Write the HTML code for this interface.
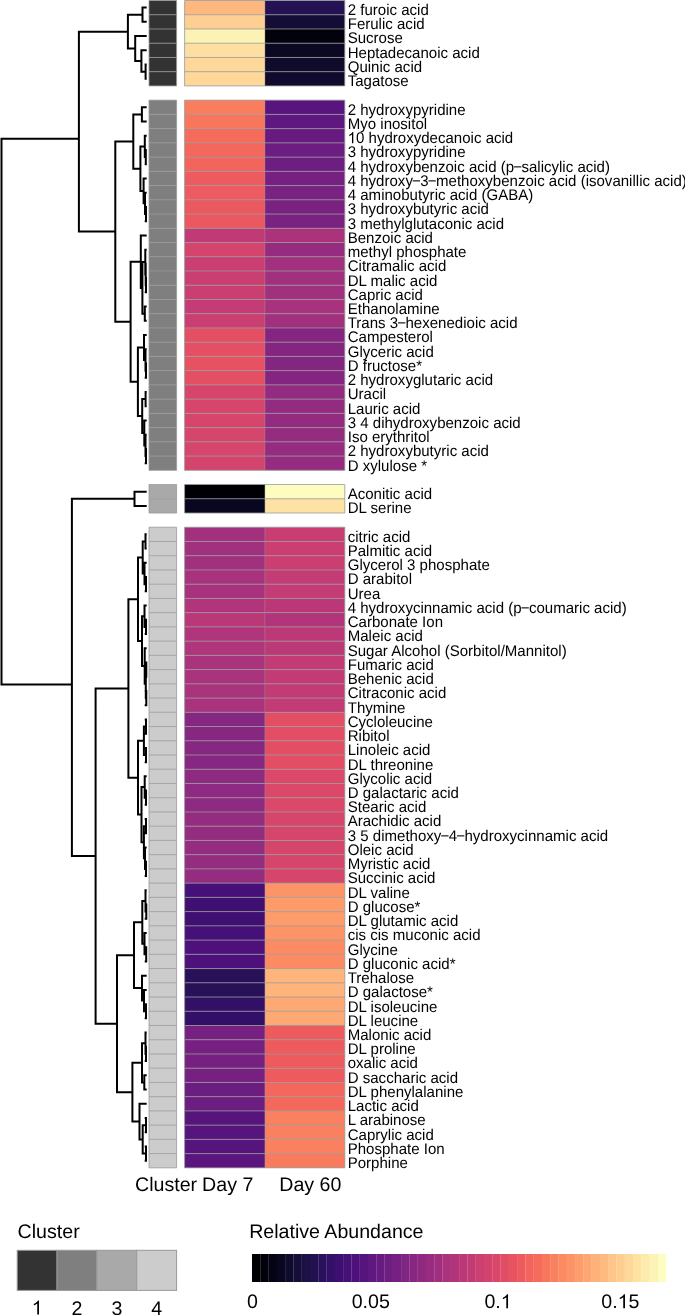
<!DOCTYPE html><html><head><meta charset="utf-8"><style>html,body{margin:0;padding:0;background:#fff;overflow:hidden;}svg{display:block;will-change:transform;}text{text-rendering:geometricPrecision;font-family:"Liberation Sans",sans-serif;fill:#000;}</style></head><body>
<svg width="685" height="1315" viewBox="0 0 685 1315">
<path d="M142.50 7.62L142.50 21.85 M142.50 7.62L145.70 7.62 M142.50 21.85L145.70 21.85 M145.60 64.56L145.60 78.80 M145.60 64.56L145.70 64.56 M145.60 78.80L145.70 78.80 M141.40 50.33L141.40 71.68 M141.40 50.33L145.70 50.33 M141.40 71.68L145.60 71.68 M135.20 36.09L135.20 61.00 M135.20 36.09L145.70 36.09 M135.20 61.00L141.40 61.00 M127.90 14.74L127.90 48.55 M127.90 14.74L142.50 14.74 M127.90 48.55L135.20 48.55 M141.90 107.27L141.90 121.51 M141.90 107.27L145.70 107.27 M141.90 121.51L145.70 121.51 M145.80 149.98L145.80 164.21 M145.80 149.98L145.70 149.98 M145.80 164.21L145.70 164.21 M144.80 135.74L144.80 157.10 M144.80 135.74L145.70 135.74 M144.80 157.10L145.80 157.10 M146.00 206.92L146.00 221.16 M146.00 206.92L145.70 206.92 M146.00 221.16L145.70 221.16 M145.00 192.69L145.00 214.04 M145.00 192.69L145.70 192.69 M145.00 214.04L146.00 214.04 M143.60 178.45L143.60 203.36 M143.60 178.45L145.70 178.45 M143.60 203.36L145.00 203.36 M140.40 146.42L140.40 190.91 M140.40 146.42L144.80 146.42 M140.40 190.91L143.60 190.91 M133.30 114.39L133.30 168.66 M133.30 114.39L141.90 114.39 M133.30 168.66L140.40 168.66 M146.00 278.10L146.00 292.34 M146.00 278.10L145.70 278.10 M146.00 292.34L145.70 292.34 M145.70 263.87L145.70 285.22 M145.70 263.87L145.70 263.87 M145.70 285.22L146.00 285.22 M145.30 249.63L145.30 274.54 M145.30 249.63L145.70 249.63 M145.30 274.54L145.70 274.54 M144.80 306.57L144.80 320.81 M144.80 306.57L145.70 306.57 M144.80 320.81L145.70 320.81 M142.40 262.09L142.40 313.69 M142.40 262.09L145.30 262.09 M142.40 313.69L144.80 313.69 M140.80 235.39L140.80 287.89 M140.80 235.39L145.70 235.39 M140.80 287.89L142.40 287.89 M146.00 363.52L146.00 377.75 M146.00 363.52L145.70 363.52 M146.00 377.75L145.70 377.75 M145.50 349.28L145.50 370.64 M145.50 349.28L145.70 349.28 M145.50 370.64L146.00 370.64 M144.00 335.05L144.00 359.96 M144.00 335.05L145.70 335.05 M144.00 359.96L145.50 359.96 M145.60 391.99L145.60 406.23 M145.60 391.99L145.70 391.99 M145.60 406.23L145.70 406.23 M146.00 448.93L146.00 463.17 M146.00 448.93L145.70 448.93 M146.00 463.17L145.70 463.17 M145.50 434.70L145.50 456.05 M145.50 434.70L145.70 434.70 M145.50 456.05L146.00 456.05 M144.30 420.46L144.30 445.38 M144.30 420.46L145.70 420.46 M144.30 445.38L145.50 445.38 M142.20 399.11L142.20 432.92 M142.20 399.11L145.60 399.11 M142.20 432.92L144.30 432.92 M137.90 347.50L137.90 416.01 M137.90 347.50L144.00 347.50 M137.90 416.01L142.20 416.01 M130.60 261.64L130.60 381.76 M130.60 261.64L140.80 261.64 M130.60 381.76L137.90 381.76 M115.30 141.53L115.30 321.70 M115.30 141.53L133.30 141.53 M115.30 321.70L130.60 321.70 M134.50 491.64L134.50 505.88 M134.50 491.64L145.70 491.64 M134.50 505.88L145.70 505.88 M145.50 534.35L145.50 548.59 M145.50 534.35L145.70 534.35 M145.50 548.59L145.70 548.59 M146.00 577.06L146.00 591.29 M146.00 577.06L145.70 577.06 M146.00 591.29L145.70 591.29 M144.50 562.82L144.50 584.18 M144.50 562.82L145.70 562.82 M144.50 584.18L146.00 584.18 M142.70 541.47L142.70 573.50 M142.70 541.47L145.50 541.47 M142.70 573.50L144.50 573.50 M146.00 619.77L146.00 634.00 M146.00 619.77L145.70 619.77 M146.00 634.00L145.70 634.00 M144.50 605.53L144.50 626.88 M144.50 605.53L145.70 605.53 M144.50 626.88L146.00 626.88 M146.30 662.47L146.30 676.71 M146.30 662.47L145.70 662.47 M146.30 676.71L145.70 676.71 M146.30 690.95L146.30 705.18 M146.30 690.95L145.70 690.95 M146.30 705.18L145.70 705.18 M145.80 669.59L145.80 698.06 M145.80 669.59L146.30 669.59 M145.80 698.06L146.30 698.06 M144.70 648.24L144.70 683.83 M144.70 648.24L145.70 648.24 M144.70 683.83L145.80 683.83 M142.00 616.21L142.00 666.03 M142.00 616.21L144.50 616.21 M142.00 666.03L144.70 666.03 M138.00 557.48L138.00 641.12 M138.00 557.48L142.70 557.48 M138.00 641.12L142.00 641.12 M146.00 719.42L146.00 733.65 M146.00 719.42L145.70 719.42 M146.00 733.65L145.70 733.65 M146.00 747.89L146.00 762.13 M146.00 747.89L145.70 747.89 M146.00 762.13L145.70 762.13 M143.90 726.54L143.90 755.01 M143.90 726.54L146.00 726.54 M143.90 755.01L146.00 755.01 M146.00 790.60L146.00 804.83 M146.00 790.60L145.70 790.60 M146.00 804.83L145.70 804.83 M144.70 776.36L144.70 797.72 M144.70 776.36L145.70 776.36 M144.70 797.72L146.00 797.72 M146.00 819.07L146.00 833.31 M146.00 819.07L145.70 819.07 M146.00 833.31L145.70 833.31 M146.00 861.78L146.00 876.01 M146.00 861.78L145.70 861.78 M146.00 876.01L145.70 876.01 M145.00 847.54L145.00 868.90 M145.00 847.54L145.70 847.54 M145.00 868.90L146.00 868.90 M143.90 826.19L143.90 858.22 M143.90 826.19L146.00 826.19 M143.90 858.22L145.00 858.22 M141.50 787.04L141.50 842.20 M141.50 787.04L144.70 787.04 M141.50 842.20L143.90 842.20 M138.00 740.77L138.00 814.62 M138.00 740.77L143.90 740.77 M138.00 814.62L141.50 814.62 M128.40 599.30L128.40 777.70 M128.40 599.30L138.00 599.30 M128.40 777.70L138.00 777.70 M146.30 904.49L146.30 918.72 M146.30 904.49L145.70 904.49 M146.30 918.72L145.70 918.72 M145.50 890.25L145.50 911.60 M145.50 890.25L145.70 890.25 M145.50 911.60L146.30 911.60 M146.20 947.19L146.20 961.43 M146.20 947.19L145.70 947.19 M146.20 961.43L145.70 961.43 M144.50 932.96L144.50 954.31 M144.50 932.96L145.70 932.96 M144.50 954.31L146.20 954.31 M142.30 900.93L142.30 943.64 M142.30 900.93L145.50 900.93 M142.30 943.64L144.50 943.64 M146.00 1004.14L146.00 1018.37 M146.00 1004.14L145.70 1004.14 M146.00 1018.37L145.70 1018.37 M144.00 989.90L144.00 1011.26 M144.00 989.90L145.70 989.90 M144.00 1011.26L146.00 1011.26 M142.00 975.67L142.00 1000.58 M142.00 975.67L145.70 975.67 M142.00 1000.58L144.00 1000.58 M134.00 922.28L134.00 988.12 M134.00 922.28L142.30 922.28 M134.00 988.12L142.00 988.12 M146.00 1046.85L146.00 1061.08 M146.00 1046.85L145.70 1046.85 M146.00 1061.08L145.70 1061.08 M145.50 1032.61L145.50 1053.96 M145.50 1032.61L145.70 1032.61 M145.50 1053.96L146.00 1053.96 M144.30 1075.32L144.30 1089.55 M144.30 1075.32L145.70 1075.32 M144.30 1089.55L145.70 1089.55 M142.00 1043.29L142.00 1082.44 M142.00 1043.29L145.50 1043.29 M142.00 1082.44L144.30 1082.44 M146.00 1118.03L146.00 1132.26 M146.00 1118.03L145.70 1118.03 M146.00 1132.26L145.70 1132.26 M146.00 1146.50L146.00 1160.73 M146.00 1146.50L145.70 1146.50 M146.00 1160.73L145.70 1160.73 M142.70 1125.14L142.70 1153.62 M142.70 1125.14L146.00 1125.14 M142.70 1153.62L146.00 1153.62 M139.50 1103.79L139.50 1139.38 M139.50 1103.79L145.70 1103.79 M139.50 1139.38L142.70 1139.38 M132.40 1062.86L132.40 1121.59 M132.40 1062.86L142.00 1062.86 M132.40 1121.59L139.50 1121.59 M117.00 955.20L117.00 1092.22 M117.00 955.20L134.00 955.20 M117.00 1092.22L132.40 1092.22 M95.60 688.50L95.60 1023.71 M95.60 688.50L128.40 688.50 M95.60 1023.71L117.00 1023.71 M78.90 31.64L78.90 231.61 M78.90 31.64L127.90 31.64 M78.90 231.61L115.30 231.61 M71.90 498.76L71.90 856.11 M71.90 498.76L134.50 498.76 M71.90 856.11L95.60 856.11 M1.50 138.74L1.50 684.55 M1.50 138.74L78.90 138.74 M1.50 684.55L71.90 684.55" stroke="#000" stroke-width="2.0" stroke-linecap="square" fill="none"/>
<rect x="149.0" y="0.50" width="27.60" height="14.29" fill="#333333"/>
<rect x="184.6" y="0.50" width="80.35" height="14.29" fill="#feb77e"/>
<rect x="264.95" y="0.50" width="79.85" height="14.29" fill="#251255"/>
<rect x="149.0" y="14.74" width="27.60" height="14.29" fill="#333333"/>
<rect x="184.6" y="14.74" width="80.35" height="14.29" fill="#fecf92"/>
<rect x="264.95" y="14.74" width="79.85" height="14.29" fill="#140e36"/>
<rect x="149.0" y="28.97" width="27.60" height="14.29" fill="#333333"/>
<rect x="184.6" y="28.97" width="80.35" height="14.29" fill="#fcf2b4"/>
<rect x="264.95" y="28.97" width="79.85" height="14.29" fill="#02020d"/>
<rect x="149.0" y="43.21" width="27.60" height="14.29" fill="#333333"/>
<rect x="184.6" y="43.21" width="80.35" height="14.29" fill="#fde0a1"/>
<rect x="264.95" y="43.21" width="79.85" height="14.29" fill="#0a0822"/>
<rect x="149.0" y="57.44" width="27.60" height="14.29" fill="#333333"/>
<rect x="184.6" y="57.44" width="80.35" height="14.29" fill="#fed89a"/>
<rect x="264.95" y="57.44" width="79.85" height="14.29" fill="#0e0b2b"/>
<rect x="149.0" y="71.68" width="27.60" height="14.29" fill="#333333"/>
<rect x="184.6" y="71.68" width="80.35" height="14.29" fill="#fed799"/>
<rect x="264.95" y="71.68" width="79.85" height="14.29" fill="#100b2d"/>
<rect x="149.0" y="100.15" width="27.60" height="14.29" fill="#7f7f7f"/>
<rect x="184.6" y="100.15" width="80.35" height="14.29" fill="#fa7d5e"/>
<rect x="264.95" y="100.15" width="79.85" height="14.29" fill="#59157e"/>
<rect x="149.0" y="114.39" width="27.60" height="14.29" fill="#7f7f7f"/>
<rect x="184.6" y="114.39" width="80.35" height="14.29" fill="#f8765c"/>
<rect x="264.95" y="114.39" width="79.85" height="14.29" fill="#5f187f"/>
<rect x="149.0" y="128.62" width="27.60" height="14.29" fill="#7f7f7f"/>
<rect x="184.6" y="128.62" width="80.35" height="14.29" fill="#f66c5c"/>
<rect x="264.95" y="128.62" width="79.85" height="14.29" fill="#671b80"/>
<rect x="149.0" y="142.86" width="27.60" height="14.29" fill="#7f7f7f"/>
<rect x="184.6" y="142.86" width="80.35" height="14.29" fill="#f4675c"/>
<rect x="264.95" y="142.86" width="79.85" height="14.29" fill="#6b1d81"/>
<rect x="149.0" y="157.10" width="27.60" height="14.29" fill="#7f7f7f"/>
<rect x="184.6" y="157.10" width="80.35" height="14.29" fill="#f2645c"/>
<rect x="264.95" y="157.10" width="79.85" height="14.29" fill="#6e1e81"/>
<rect x="149.0" y="171.33" width="27.60" height="14.29" fill="#7f7f7f"/>
<rect x="184.6" y="171.33" width="80.35" height="14.29" fill="#ee5b5e"/>
<rect x="264.95" y="171.33" width="79.85" height="14.29" fill="#762181"/>
<rect x="149.0" y="185.57" width="27.60" height="14.29" fill="#7f7f7f"/>
<rect x="184.6" y="185.57" width="80.35" height="14.29" fill="#ed5a5f"/>
<rect x="264.95" y="185.57" width="79.85" height="14.29" fill="#782281"/>
<rect x="149.0" y="199.80" width="27.60" height="14.29" fill="#7f7f7f"/>
<rect x="184.6" y="199.80" width="80.35" height="14.29" fill="#ec5860"/>
<rect x="264.95" y="199.80" width="79.85" height="14.29" fill="#792282"/>
<rect x="149.0" y="214.04" width="27.60" height="14.29" fill="#7f7f7f"/>
<rect x="184.6" y="214.04" width="80.35" height="14.29" fill="#ec5860"/>
<rect x="264.95" y="214.04" width="79.85" height="14.29" fill="#792282"/>
<rect x="149.0" y="228.28" width="27.60" height="14.29" fill="#7f7f7f"/>
<rect x="184.6" y="228.28" width="80.35" height="14.29" fill="#c03a76"/>
<rect x="264.95" y="228.28" width="79.85" height="14.29" fill="#ab337c"/>
<rect x="149.0" y="242.51" width="27.60" height="14.29" fill="#7f7f7f"/>
<rect x="184.6" y="242.51" width="80.35" height="14.29" fill="#d5446d"/>
<rect x="264.95" y="242.51" width="79.85" height="14.29" fill="#962c80"/>
<rect x="149.0" y="256.75" width="27.60" height="14.29" fill="#7f7f7f"/>
<rect x="184.6" y="256.75" width="80.35" height="14.29" fill="#ca3e72"/>
<rect x="264.95" y="256.75" width="79.85" height="14.29" fill="#a1307e"/>
<rect x="149.0" y="270.98" width="27.60" height="14.29" fill="#7f7f7f"/>
<rect x="184.6" y="270.98" width="80.35" height="14.29" fill="#ca3e72"/>
<rect x="264.95" y="270.98" width="79.85" height="14.29" fill="#a1307e"/>
<rect x="149.0" y="285.22" width="27.60" height="14.29" fill="#7f7f7f"/>
<rect x="184.6" y="285.22" width="80.35" height="14.29" fill="#ca3e72"/>
<rect x="264.95" y="285.22" width="79.85" height="14.29" fill="#a1307e"/>
<rect x="149.0" y="299.46" width="27.60" height="14.29" fill="#7f7f7f"/>
<rect x="184.6" y="299.46" width="80.35" height="14.29" fill="#c43c75"/>
<rect x="264.95" y="299.46" width="79.85" height="14.29" fill="#a8327d"/>
<rect x="149.0" y="313.69" width="27.60" height="14.29" fill="#7f7f7f"/>
<rect x="184.6" y="313.69" width="80.35" height="14.29" fill="#ca3e72"/>
<rect x="264.95" y="313.69" width="79.85" height="14.29" fill="#a1307e"/>
<rect x="149.0" y="327.93" width="27.60" height="14.29" fill="#7f7f7f"/>
<rect x="184.6" y="327.93" width="80.35" height="14.29" fill="#e44f64"/>
<rect x="264.95" y="327.93" width="79.85" height="14.29" fill="#842681"/>
<rect x="149.0" y="342.16" width="27.60" height="14.29" fill="#7f7f7f"/>
<rect x="184.6" y="342.16" width="80.35" height="14.29" fill="#e44f64"/>
<rect x="264.95" y="342.16" width="79.85" height="14.29" fill="#842681"/>
<rect x="149.0" y="356.40" width="27.60" height="14.29" fill="#7f7f7f"/>
<rect x="184.6" y="356.40" width="80.35" height="14.29" fill="#e75263"/>
<rect x="264.95" y="356.40" width="79.85" height="14.29" fill="#832681"/>
<rect x="149.0" y="370.64" width="27.60" height="14.29" fill="#7f7f7f"/>
<rect x="184.6" y="370.64" width="80.35" height="14.29" fill="#e44f64"/>
<rect x="264.95" y="370.64" width="79.85" height="14.29" fill="#842681"/>
<rect x="149.0" y="384.87" width="27.60" height="14.29" fill="#7f7f7f"/>
<rect x="184.6" y="384.87" width="80.35" height="14.29" fill="#d8456c"/>
<rect x="264.95" y="384.87" width="79.85" height="14.29" fill="#932b80"/>
<rect x="149.0" y="399.11" width="27.60" height="14.29" fill="#7f7f7f"/>
<rect x="184.6" y="399.11" width="80.35" height="14.29" fill="#d8456c"/>
<rect x="264.95" y="399.11" width="79.85" height="14.29" fill="#932b80"/>
<rect x="149.0" y="413.34" width="27.60" height="14.29" fill="#7f7f7f"/>
<rect x="184.6" y="413.34" width="80.35" height="14.29" fill="#d8456c"/>
<rect x="264.95" y="413.34" width="79.85" height="14.29" fill="#932b80"/>
<rect x="149.0" y="427.58" width="27.60" height="14.29" fill="#7f7f7f"/>
<rect x="184.6" y="427.58" width="80.35" height="14.29" fill="#d6456c"/>
<rect x="264.95" y="427.58" width="79.85" height="14.29" fill="#942c80"/>
<rect x="149.0" y="441.82" width="27.60" height="14.29" fill="#7f7f7f"/>
<rect x="184.6" y="441.82" width="80.35" height="14.29" fill="#d6456c"/>
<rect x="264.95" y="441.82" width="79.85" height="14.29" fill="#942c80"/>
<rect x="149.0" y="456.05" width="27.60" height="14.29" fill="#7f7f7f"/>
<rect x="184.6" y="456.05" width="80.35" height="14.29" fill="#d5446d"/>
<rect x="264.95" y="456.05" width="79.85" height="14.29" fill="#962c80"/>
<rect x="149.0" y="484.52" width="27.60" height="14.29" fill="#a9a9a9"/>
<rect x="184.6" y="484.52" width="80.35" height="14.29" fill="#000004"/>
<rect x="264.95" y="484.52" width="79.85" height="14.29" fill="#fcfdbf"/>
<rect x="149.0" y="498.76" width="27.60" height="14.29" fill="#a9a9a9"/>
<rect x="184.6" y="498.76" width="80.35" height="14.29" fill="#090720"/>
<rect x="264.95" y="498.76" width="79.85" height="14.29" fill="#fde2a3"/>
<rect x="149.0" y="527.23" width="27.60" height="14.29" fill="#cccccc"/>
<rect x="184.6" y="527.23" width="80.35" height="14.29" fill="#a3307e"/>
<rect x="264.95" y="527.23" width="79.85" height="14.29" fill="#c83e73"/>
<rect x="149.0" y="541.47" width="27.60" height="14.29" fill="#cccccc"/>
<rect x="184.6" y="541.47" width="80.35" height="14.29" fill="#a1307e"/>
<rect x="264.95" y="541.47" width="79.85" height="14.29" fill="#ca3e72"/>
<rect x="149.0" y="555.70" width="27.60" height="14.29" fill="#cccccc"/>
<rect x="184.6" y="555.70" width="80.35" height="14.29" fill="#a1307e"/>
<rect x="264.95" y="555.70" width="79.85" height="14.29" fill="#ca3e72"/>
<rect x="149.0" y="569.94" width="27.60" height="14.29" fill="#cccccc"/>
<rect x="184.6" y="569.94" width="80.35" height="14.29" fill="#a8327d"/>
<rect x="264.95" y="569.94" width="79.85" height="14.29" fill="#c43c75"/>
<rect x="149.0" y="584.18" width="27.60" height="14.29" fill="#cccccc"/>
<rect x="184.6" y="584.18" width="80.35" height="14.29" fill="#a8327d"/>
<rect x="264.95" y="584.18" width="79.85" height="14.29" fill="#c43c75"/>
<rect x="149.0" y="598.41" width="27.60" height="14.29" fill="#cccccc"/>
<rect x="184.6" y="598.41" width="80.35" height="14.29" fill="#b2357b"/>
<rect x="264.95" y="598.41" width="79.85" height="14.29" fill="#ba3878"/>
<rect x="149.0" y="612.65" width="27.60" height="14.29" fill="#cccccc"/>
<rect x="184.6" y="612.65" width="80.35" height="14.29" fill="#ba3878"/>
<rect x="264.95" y="612.65" width="79.85" height="14.29" fill="#b2357b"/>
<rect x="149.0" y="626.88" width="27.60" height="14.29" fill="#cccccc"/>
<rect x="184.6" y="626.88" width="80.35" height="14.29" fill="#b0357b"/>
<rect x="264.95" y="626.88" width="79.85" height="14.29" fill="#bc3978"/>
<rect x="149.0" y="641.12" width="27.60" height="14.29" fill="#cccccc"/>
<rect x="184.6" y="641.12" width="80.35" height="14.29" fill="#b0357b"/>
<rect x="264.95" y="641.12" width="79.85" height="14.29" fill="#bc3978"/>
<rect x="149.0" y="655.36" width="27.60" height="14.29" fill="#cccccc"/>
<rect x="184.6" y="655.36" width="80.35" height="14.29" fill="#aa337d"/>
<rect x="264.95" y="655.36" width="79.85" height="14.29" fill="#c23b75"/>
<rect x="149.0" y="669.59" width="27.60" height="14.29" fill="#cccccc"/>
<rect x="184.6" y="669.59" width="80.35" height="14.29" fill="#aa337d"/>
<rect x="264.95" y="669.59" width="79.85" height="14.29" fill="#c23b75"/>
<rect x="149.0" y="683.83" width="27.60" height="14.29" fill="#cccccc"/>
<rect x="184.6" y="683.83" width="80.35" height="14.29" fill="#aa337d"/>
<rect x="264.95" y="683.83" width="79.85" height="14.29" fill="#c23b75"/>
<rect x="149.0" y="698.06" width="27.60" height="14.29" fill="#cccccc"/>
<rect x="184.6" y="698.06" width="80.35" height="14.29" fill="#aa337d"/>
<rect x="264.95" y="698.06" width="79.85" height="14.29" fill="#c23b75"/>
<rect x="149.0" y="712.30" width="27.60" height="14.29" fill="#cccccc"/>
<rect x="184.6" y="712.30" width="80.35" height="14.29" fill="#862781"/>
<rect x="264.95" y="712.30" width="79.85" height="14.29" fill="#e34e65"/>
<rect x="149.0" y="726.54" width="27.60" height="14.29" fill="#cccccc"/>
<rect x="184.6" y="726.54" width="80.35" height="14.29" fill="#862781"/>
<rect x="264.95" y="726.54" width="79.85" height="14.29" fill="#e34e65"/>
<rect x="149.0" y="740.77" width="27.60" height="14.29" fill="#cccccc"/>
<rect x="184.6" y="740.77" width="80.35" height="14.29" fill="#862781"/>
<rect x="264.95" y="740.77" width="79.85" height="14.29" fill="#e34e65"/>
<rect x="149.0" y="755.01" width="27.60" height="14.29" fill="#cccccc"/>
<rect x="184.6" y="755.01" width="80.35" height="14.29" fill="#862781"/>
<rect x="264.95" y="755.01" width="79.85" height="14.29" fill="#e34e65"/>
<rect x="149.0" y="769.24" width="27.60" height="14.29" fill="#cccccc"/>
<rect x="184.6" y="769.24" width="80.35" height="14.29" fill="#8e2a81"/>
<rect x="264.95" y="769.24" width="79.85" height="14.29" fill="#dc4869"/>
<rect x="149.0" y="783.48" width="27.60" height="14.29" fill="#cccccc"/>
<rect x="184.6" y="783.48" width="80.35" height="14.29" fill="#8e2a81"/>
<rect x="264.95" y="783.48" width="79.85" height="14.29" fill="#dc4869"/>
<rect x="149.0" y="797.72" width="27.60" height="14.29" fill="#cccccc"/>
<rect x="184.6" y="797.72" width="80.35" height="14.29" fill="#8e2a81"/>
<rect x="264.95" y="797.72" width="79.85" height="14.29" fill="#dc4869"/>
<rect x="149.0" y="811.95" width="27.60" height="14.29" fill="#cccccc"/>
<rect x="184.6" y="811.95" width="80.35" height="14.29" fill="#942c80"/>
<rect x="264.95" y="811.95" width="79.85" height="14.29" fill="#d6456c"/>
<rect x="149.0" y="826.19" width="27.60" height="14.29" fill="#cccccc"/>
<rect x="184.6" y="826.19" width="80.35" height="14.29" fill="#942c80"/>
<rect x="264.95" y="826.19" width="79.85" height="14.29" fill="#d6456c"/>
<rect x="149.0" y="840.42" width="27.60" height="14.29" fill="#cccccc"/>
<rect x="184.6" y="840.42" width="80.35" height="14.29" fill="#942c80"/>
<rect x="264.95" y="840.42" width="79.85" height="14.29" fill="#d6456c"/>
<rect x="149.0" y="854.66" width="27.60" height="14.29" fill="#cccccc"/>
<rect x="184.6" y="854.66" width="80.35" height="14.29" fill="#942c80"/>
<rect x="264.95" y="854.66" width="79.85" height="14.29" fill="#d6456c"/>
<rect x="149.0" y="868.90" width="27.60" height="14.29" fill="#cccccc"/>
<rect x="184.6" y="868.90" width="80.35" height="14.29" fill="#942c80"/>
<rect x="264.95" y="868.90" width="79.85" height="14.29" fill="#d6456c"/>
<rect x="149.0" y="883.13" width="27.60" height="14.29" fill="#cccccc"/>
<rect x="184.6" y="883.13" width="80.35" height="14.29" fill="#451077"/>
<rect x="264.95" y="883.13" width="79.85" height="14.29" fill="#fd9467"/>
<rect x="149.0" y="897.37" width="27.60" height="14.29" fill="#cccccc"/>
<rect x="184.6" y="897.37" width="80.35" height="14.29" fill="#3f0f72"/>
<rect x="264.95" y="897.37" width="79.85" height="14.29" fill="#fd9b6b"/>
<rect x="149.0" y="911.60" width="27.60" height="14.29" fill="#cccccc"/>
<rect x="184.6" y="911.60" width="80.35" height="14.29" fill="#3f0f72"/>
<rect x="264.95" y="911.60" width="79.85" height="14.29" fill="#fd9b6b"/>
<rect x="149.0" y="925.84" width="27.60" height="14.29" fill="#cccccc"/>
<rect x="184.6" y="925.84" width="80.35" height="14.29" fill="#451077"/>
<rect x="264.95" y="925.84" width="79.85" height="14.29" fill="#fd9467"/>
<rect x="149.0" y="940.08" width="27.60" height="14.29" fill="#cccccc"/>
<rect x="184.6" y="940.08" width="80.35" height="14.29" fill="#4e117b"/>
<rect x="264.95" y="940.08" width="79.85" height="14.29" fill="#fc8a62"/>
<rect x="149.0" y="954.31" width="27.60" height="14.29" fill="#cccccc"/>
<rect x="184.6" y="954.31" width="80.35" height="14.29" fill="#4e117b"/>
<rect x="264.95" y="954.31" width="79.85" height="14.29" fill="#fc8a62"/>
<rect x="149.0" y="968.55" width="27.60" height="14.29" fill="#cccccc"/>
<rect x="184.6" y="968.55" width="80.35" height="14.29" fill="#29115a"/>
<rect x="264.95" y="968.55" width="79.85" height="14.29" fill="#feb47b"/>
<rect x="149.0" y="982.78" width="27.60" height="14.29" fill="#cccccc"/>
<rect x="184.6" y="982.78" width="80.35" height="14.29" fill="#29115a"/>
<rect x="264.95" y="982.78" width="79.85" height="14.29" fill="#feb47b"/>
<rect x="149.0" y="997.02" width="27.60" height="14.29" fill="#cccccc"/>
<rect x="184.6" y="997.02" width="80.35" height="14.29" fill="#331067"/>
<rect x="264.95" y="997.02" width="79.85" height="14.29" fill="#fea973"/>
<rect x="149.0" y="1011.26" width="27.60" height="14.29" fill="#cccccc"/>
<rect x="184.6" y="1011.26" width="80.35" height="14.29" fill="#331067"/>
<rect x="264.95" y="1011.26" width="79.85" height="14.29" fill="#fea973"/>
<rect x="149.0" y="1025.49" width="27.60" height="14.29" fill="#cccccc"/>
<rect x="184.6" y="1025.49" width="80.35" height="14.29" fill="#762181"/>
<rect x="264.95" y="1025.49" width="79.85" height="14.29" fill="#ee5b5e"/>
<rect x="149.0" y="1039.73" width="27.60" height="14.29" fill="#cccccc"/>
<rect x="184.6" y="1039.73" width="80.35" height="14.29" fill="#762181"/>
<rect x="264.95" y="1039.73" width="79.85" height="14.29" fill="#ee5b5e"/>
<rect x="149.0" y="1053.96" width="27.60" height="14.29" fill="#cccccc"/>
<rect x="184.6" y="1053.96" width="80.35" height="14.29" fill="#762181"/>
<rect x="264.95" y="1053.96" width="79.85" height="14.29" fill="#ee5b5e"/>
<rect x="149.0" y="1068.20" width="27.60" height="14.29" fill="#cccccc"/>
<rect x="184.6" y="1068.20" width="80.35" height="14.29" fill="#762181"/>
<rect x="264.95" y="1068.20" width="79.85" height="14.29" fill="#ee5b5e"/>
<rect x="149.0" y="1082.44" width="27.60" height="14.29" fill="#cccccc"/>
<rect x="184.6" y="1082.44" width="80.35" height="14.29" fill="#6b1d81"/>
<rect x="264.95" y="1082.44" width="79.85" height="14.29" fill="#f4675c"/>
<rect x="149.0" y="1096.67" width="27.60" height="14.29" fill="#cccccc"/>
<rect x="184.6" y="1096.67" width="80.35" height="14.29" fill="#6b1d81"/>
<rect x="264.95" y="1096.67" width="79.85" height="14.29" fill="#f4675c"/>
<rect x="149.0" y="1110.91" width="27.60" height="14.29" fill="#cccccc"/>
<rect x="184.6" y="1110.91" width="80.35" height="14.29" fill="#56147d"/>
<rect x="264.95" y="1110.91" width="79.85" height="14.29" fill="#fa815f"/>
<rect x="149.0" y="1125.14" width="27.60" height="14.29" fill="#cccccc"/>
<rect x="184.6" y="1125.14" width="80.35" height="14.29" fill="#56147d"/>
<rect x="264.95" y="1125.14" width="79.85" height="14.29" fill="#fa815f"/>
<rect x="149.0" y="1139.38" width="27.60" height="14.29" fill="#cccccc"/>
<rect x="184.6" y="1139.38" width="80.35" height="14.29" fill="#56147d"/>
<rect x="264.95" y="1139.38" width="79.85" height="14.29" fill="#fa815f"/>
<rect x="149.0" y="1153.62" width="27.60" height="14.29" fill="#cccccc"/>
<rect x="184.6" y="1153.62" width="80.35" height="14.29" fill="#5a167e"/>
<rect x="264.95" y="1153.62" width="79.85" height="14.29" fill="#f97b5d"/>
<path d="M149.0 0.50H176.6M184.6 0.50H344.8M149.0 14.74H176.6M184.6 14.74H344.8M149.0 28.97H176.6M184.6 28.97H344.8M149.0 43.21H176.6M184.6 43.21H344.8M149.0 57.44H176.6M184.6 57.44H344.8M149.0 71.68H176.6M184.6 71.68H344.8M149.0 85.92H176.6M184.6 85.92H344.8M149.0 0.50V85.92M176.6 0.50V85.92M184.6 0.50V85.92M344.8 0.50V85.92M149.0 100.15H176.6M184.6 100.15H344.8M149.0 114.39H176.6M184.6 114.39H344.8M149.0 128.62H176.6M184.6 128.62H344.8M149.0 142.86H176.6M184.6 142.86H344.8M149.0 157.10H176.6M184.6 157.10H344.8M149.0 171.33H176.6M184.6 171.33H344.8M149.0 185.57H176.6M184.6 185.57H344.8M149.0 199.80H176.6M184.6 199.80H344.8M149.0 214.04H176.6M184.6 214.04H344.8M149.0 228.28H176.6M184.6 228.28H344.8M149.0 242.51H176.6M184.6 242.51H344.8M149.0 256.75H176.6M184.6 256.75H344.8M149.0 270.98H176.6M184.6 270.98H344.8M149.0 285.22H176.6M184.6 285.22H344.8M149.0 299.46H176.6M184.6 299.46H344.8M149.0 313.69H176.6M184.6 313.69H344.8M149.0 327.93H176.6M184.6 327.93H344.8M149.0 342.16H176.6M184.6 342.16H344.8M149.0 356.40H176.6M184.6 356.40H344.8M149.0 370.64H176.6M184.6 370.64H344.8M149.0 384.87H176.6M184.6 384.87H344.8M149.0 399.11H176.6M184.6 399.11H344.8M149.0 413.34H176.6M184.6 413.34H344.8M149.0 427.58H176.6M184.6 427.58H344.8M149.0 441.82H176.6M184.6 441.82H344.8M149.0 456.05H176.6M184.6 456.05H344.8M149.0 470.29H176.6M184.6 470.29H344.8M149.0 100.15V470.29M176.6 100.15V470.29M184.6 100.15V470.29M344.8 100.15V470.29M149.0 484.52H176.6M184.6 484.52H344.8M149.0 498.76H176.6M184.6 498.76H344.8M149.0 513.00H176.6M184.6 513.00H344.8M149.0 484.52V513.00M176.6 484.52V513.00M184.6 484.52V513.00M344.8 484.52V513.00M149.0 527.23H176.6M184.6 527.23H344.8M149.0 541.47H176.6M184.6 541.47H344.8M149.0 555.70H176.6M184.6 555.70H344.8M149.0 569.94H176.6M184.6 569.94H344.8M149.0 584.18H176.6M184.6 584.18H344.8M149.0 598.41H176.6M184.6 598.41H344.8M149.0 612.65H176.6M184.6 612.65H344.8M149.0 626.88H176.6M184.6 626.88H344.8M149.0 641.12H176.6M184.6 641.12H344.8M149.0 655.36H176.6M184.6 655.36H344.8M149.0 669.59H176.6M184.6 669.59H344.8M149.0 683.83H176.6M184.6 683.83H344.8M149.0 698.06H176.6M184.6 698.06H344.8M149.0 712.30H176.6M184.6 712.30H344.8M149.0 726.54H176.6M184.6 726.54H344.8M149.0 740.77H176.6M184.6 740.77H344.8M149.0 755.01H176.6M184.6 755.01H344.8M149.0 769.24H176.6M184.6 769.24H344.8M149.0 783.48H176.6M184.6 783.48H344.8M149.0 797.72H176.6M184.6 797.72H344.8M149.0 811.95H176.6M184.6 811.95H344.8M149.0 826.19H176.6M184.6 826.19H344.8M149.0 840.42H176.6M184.6 840.42H344.8M149.0 854.66H176.6M184.6 854.66H344.8M149.0 868.90H176.6M184.6 868.90H344.8M149.0 883.13H176.6M184.6 883.13H344.8M149.0 897.37H176.6M184.6 897.37H344.8M149.0 911.60H176.6M184.6 911.60H344.8M149.0 925.84H176.6M184.6 925.84H344.8M149.0 940.08H176.6M184.6 940.08H344.8M149.0 954.31H176.6M184.6 954.31H344.8M149.0 968.55H176.6M184.6 968.55H344.8M149.0 982.78H176.6M184.6 982.78H344.8M149.0 997.02H176.6M184.6 997.02H344.8M149.0 1011.26H176.6M184.6 1011.26H344.8M149.0 1025.49H176.6M184.6 1025.49H344.8M149.0 1039.73H176.6M184.6 1039.73H344.8M149.0 1053.96H176.6M184.6 1053.96H344.8M149.0 1068.20H176.6M184.6 1068.20H344.8M149.0 1082.44H176.6M184.6 1082.44H344.8M149.0 1096.67H176.6M184.6 1096.67H344.8M149.0 1110.91H176.6M184.6 1110.91H344.8M149.0 1125.14H176.6M184.6 1125.14H344.8M149.0 1139.38H176.6M184.6 1139.38H344.8M149.0 1153.62H176.6M184.6 1153.62H344.8M149.0 1167.85H176.6M184.6 1167.85H344.8M149.0 527.23V1167.85M176.6 527.23V1167.85M184.6 527.23V1167.85M344.8 527.23V1167.85" stroke="#999999" stroke-width="0.8" fill="none"/>
<path d="M264.95 0.50V85.92M264.95 100.15V470.29M264.95 484.52V513.00M264.95 527.23V1167.85" stroke="#999999" stroke-width="0.8" stroke-opacity="0.45" fill="none"/>
<text transform="translate(347.7 15.02) scale(0.9741 1)" font-size="15.45">2 furoic acid</text>
<text transform="translate(347.7 29.25) scale(0.9741 1)" font-size="15.45">Ferulic acid</text>
<text transform="translate(347.7 43.49) scale(0.9741 1)" font-size="15.45">Sucrose</text>
<text transform="translate(347.7 57.73) scale(0.9741 1)" font-size="15.45">Heptadecanoic acid</text>
<text transform="translate(347.7 71.96) scale(0.9741 1)" font-size="15.45">Quinic acid</text>
<text transform="translate(347.7 86.20) scale(0.9741 1)" font-size="15.45">Tagatose</text>
<text transform="translate(347.7 114.67) scale(0.9741 1)" font-size="15.45">2 hydroxypyridine</text>
<text transform="translate(347.7 128.91) scale(0.9741 1)" font-size="15.45">Myo inositol</text>
<path transform="translate(347.700 143.142) scale(0.007349 -0.007544)" d="M763 0L583 0L583 1147Q470 1040 223 930L223 1102Q420 1190 560 1330Q620 1400 646 1466L763 1466Z" fill="#000"/>
<text transform="translate(347.7 143.14) scale(0.9741 1)" font-size="15.45"> 0 hydroxydecanoic acid</text>
<text transform="translate(347.7 157.38) scale(0.9741 1)" font-size="15.45">3 hydroxypyridine</text>
<text transform="translate(347.7 171.61) scale(0.9741 1)" font-size="15.45">4 hydroxybenzoic acid (p<tspan dx="-0.82">−</tspan><tspan dx="-0.62">salicylic acid)</tspan></text>
<text transform="translate(347.7 185.85) scale(0.9741 1)" font-size="15.45">4 hydroxy<tspan dx="-0.82">−</tspan><tspan dx="-0.62">3</tspan><tspan dx="-0.82">−</tspan><tspan dx="-0.62">methoxybenzoic acid (isovanillic acid)</tspan></text>
<text transform="translate(347.7 200.09) scale(0.9741 1)" font-size="15.45">4 aminobutyric acid (GABA)</text>
<text transform="translate(347.7 214.32) scale(0.9741 1)" font-size="15.45">3 hydroxybutyric acid</text>
<text transform="translate(347.7 228.56) scale(0.9741 1)" font-size="15.45">3 methylglutaconic acid</text>
<text transform="translate(347.7 242.79) scale(0.9741 1)" font-size="15.45">Benzoic acid</text>
<text transform="translate(347.7 257.03) scale(0.9741 1)" font-size="15.45">methyl phosphate</text>
<text transform="translate(347.7 271.27) scale(0.9741 1)" font-size="15.45">Citramalic acid</text>
<text transform="translate(347.7 285.50) scale(0.9741 1)" font-size="15.45">DL malic acid</text>
<text transform="translate(347.7 299.74) scale(0.9741 1)" font-size="15.45">Capric acid</text>
<text transform="translate(347.7 313.97) scale(0.9741 1)" font-size="15.45">Ethanolamine</text>
<text transform="translate(347.7 328.21) scale(0.9741 1)" font-size="15.45">Trans 3<tspan dx="-0.82">−</tspan><tspan dx="-0.62">hexenedioic acid</tspan></text>
<text transform="translate(347.7 342.45) scale(0.9741 1)" font-size="15.45">Campesterol</text>
<text transform="translate(347.7 356.68) scale(0.9741 1)" font-size="15.45">Glyceric acid</text>
<text transform="translate(347.7 370.92) scale(0.9741 1)" font-size="15.45">D fructose*</text>
<text transform="translate(347.7 385.15) scale(0.9741 1)" font-size="15.45">2 hydroxyglutaric acid</text>
<text transform="translate(347.7 399.39) scale(0.9741 1)" font-size="15.45">Uracil</text>
<text transform="translate(347.7 413.63) scale(0.9741 1)" font-size="15.45">Lauric acid</text>
<text transform="translate(347.7 427.86) scale(0.9741 1)" font-size="15.45">3 4 dihydroxybenzoic acid</text>
<text transform="translate(347.7 442.10) scale(0.9741 1)" font-size="15.45">Iso erythritol</text>
<text transform="translate(347.7 456.33) scale(0.9741 1)" font-size="15.45">2 hydroxybutyric acid</text>
<text transform="translate(347.7 470.57) scale(0.9741 1)" font-size="15.45">D xylulose *</text>
<text transform="translate(347.7 499.04) scale(0.9741 1)" font-size="15.45">Aconitic acid</text>
<text transform="translate(347.7 513.28) scale(0.9741 1)" font-size="15.45">DL serine</text>
<text transform="translate(347.7 541.75) scale(0.9741 1)" font-size="15.45">citric acid</text>
<text transform="translate(347.7 555.99) scale(0.9741 1)" font-size="15.45">Palmitic acid</text>
<text transform="translate(347.7 570.22) scale(0.9741 1)" font-size="15.45">Glycerol 3 phosphate</text>
<text transform="translate(347.7 584.46) scale(0.9741 1)" font-size="15.45">D arabitol</text>
<text transform="translate(347.7 598.69) scale(0.9741 1)" font-size="15.45">Urea</text>
<text transform="translate(347.7 612.93) scale(0.9741 1)" font-size="15.45">4 hydroxycinnamic acid (p<tspan dx="-0.82">−</tspan><tspan dx="-0.62">coumaric acid)</tspan></text>
<text transform="translate(347.7 627.17) scale(0.9741 1)" font-size="15.45">Carbonate Ion</text>
<text transform="translate(347.7 641.40) scale(0.9741 1)" font-size="15.45">Maleic acid</text>
<text transform="translate(347.7 655.64) scale(0.9741 1)" font-size="15.45">Sugar Alcohol (Sorbitol/Mannitol)</text>
<text transform="translate(347.7 669.87) scale(0.9741 1)" font-size="15.45">Fumaric acid</text>
<text transform="translate(347.7 684.11) scale(0.9741 1)" font-size="15.45">Behenic acid</text>
<text transform="translate(347.7 698.35) scale(0.9741 1)" font-size="15.45">Citraconic acid</text>
<text transform="translate(347.7 712.58) scale(0.9741 1)" font-size="15.45">Thymine</text>
<text transform="translate(347.7 726.82) scale(0.9741 1)" font-size="15.45">Cycloleucine</text>
<text transform="translate(347.7 741.05) scale(0.9741 1)" font-size="15.45">Ribitol</text>
<text transform="translate(347.7 755.29) scale(0.9741 1)" font-size="15.45">Linoleic acid</text>
<text transform="translate(347.7 769.53) scale(0.9741 1)" font-size="15.45">DL threonine</text>
<text transform="translate(347.7 783.76) scale(0.9741 1)" font-size="15.45">Glycolic acid</text>
<text transform="translate(347.7 798.00) scale(0.9741 1)" font-size="15.45">D galactaric acid</text>
<text transform="translate(347.7 812.23) scale(0.9741 1)" font-size="15.45">Stearic acid</text>
<text transform="translate(347.7 826.47) scale(0.9741 1)" font-size="15.45">Arachidic acid</text>
<text transform="translate(347.7 840.71) scale(0.9741 1)" font-size="15.45">3 5 dimethoxy<tspan dx="-0.82">−</tspan><tspan dx="-0.62">4</tspan><tspan dx="-0.82">−</tspan><tspan dx="-0.62">hydroxycinnamic acid</tspan></text>
<text transform="translate(347.7 854.94) scale(0.9741 1)" font-size="15.45">Oleic acid</text>
<text transform="translate(347.7 869.18) scale(0.9741 1)" font-size="15.45">Myristic acid</text>
<text transform="translate(347.7 883.41) scale(0.9741 1)" font-size="15.45">Succinic acid</text>
<text transform="translate(347.7 897.65) scale(0.9741 1)" font-size="15.45">DL valine</text>
<text transform="translate(347.7 911.89) scale(0.9741 1)" font-size="15.45">D glucose*</text>
<text transform="translate(347.7 926.12) scale(0.9741 1)" font-size="15.45">DL glutamic acid</text>
<text transform="translate(347.7 940.36) scale(0.9741 1)" font-size="15.45">cis cis muconic acid</text>
<text transform="translate(347.7 954.59) scale(0.9741 1)" font-size="15.45">Glycine</text>
<text transform="translate(347.7 968.83) scale(0.9741 1)" font-size="15.45">D gluconic acid*</text>
<text transform="translate(347.7 983.07) scale(0.9741 1)" font-size="15.45">Trehalose</text>
<text transform="translate(347.7 997.30) scale(0.9741 1)" font-size="15.45">D galactose*</text>
<text transform="translate(347.7 1011.54) scale(0.9741 1)" font-size="15.45">DL isoleucine</text>
<text transform="translate(347.7 1025.77) scale(0.9741 1)" font-size="15.45">DL leucine</text>
<text transform="translate(347.7 1040.01) scale(0.9741 1)" font-size="15.45">Malonic acid</text>
<text transform="translate(347.7 1054.25) scale(0.9741 1)" font-size="15.45">DL proline</text>
<text transform="translate(347.7 1068.48) scale(0.9741 1)" font-size="15.45">oxalic acid</text>
<text transform="translate(347.7 1082.72) scale(0.9741 1)" font-size="15.45">D saccharic acid</text>
<text transform="translate(347.7 1096.95) scale(0.9741 1)" font-size="15.45">DL phenylalanine</text>
<text transform="translate(347.7 1111.19) scale(0.9741 1)" font-size="15.45">Lactic acid</text>
<text transform="translate(347.7 1125.43) scale(0.9741 1)" font-size="15.45">L arabinose</text>
<text transform="translate(347.7 1139.66) scale(0.9741 1)" font-size="15.45">Caprylic acid</text>
<text transform="translate(347.7 1153.90) scale(0.9741 1)" font-size="15.45">Phosphate Ion</text>
<text transform="translate(347.7 1168.13) scale(0.9741 1)" font-size="15.45">Porphine</text>
<text x="135.0" y="1190.5" font-size="19.6">Cluster</text>
<text x="202.1" y="1190.5" font-size="19.6">Day 7</text>
<text x="279.3" y="1190.5" font-size="19.6">Day 60</text>
<text x="17.6" y="1237.8" font-size="19.6">Cluster</text>
<rect x="17.20" y="1250.3" width="39.85" height="40.10" fill="#333333" stroke="#999999" stroke-width="1"/>
<text x="31.675" y="1314.5" font-size="19.6"> </text>
<path transform="translate(31.675 1314.500) scale(0.009570 -0.009570)" d="M763 0L583 0L583 1147Q470 1040 223 930L223 1102Q420 1190 560 1330Q620 1400 646 1466L763 1466Z" fill="#000"/>
<rect x="57.05" y="1250.3" width="39.85" height="40.10" fill="#7f7f7f" stroke="#999999" stroke-width="1"/>
<text x="71.525" y="1314.5" font-size="19.6">2</text>
<rect x="96.90" y="1250.3" width="39.85" height="40.10" fill="#a9a9a9" stroke="#999999" stroke-width="1"/>
<text x="111.375" y="1314.5" font-size="19.6">3</text>
<rect x="136.75" y="1250.3" width="39.85" height="40.10" fill="#cccccc" stroke="#999999" stroke-width="1"/>
<text x="151.225" y="1314.5" font-size="19.6">4</text>
<text x="249.2" y="1237.8" font-size="19.6">Relative Abundance</text>
<rect x="252.000" y="1254.0" width="8.434" height="28.0" fill="#000004"/>
<rect x="260.284" y="1254.0" width="8.434" height="28.0" fill="#02020b"/>
<rect x="268.568" y="1254.0" width="8.434" height="28.0" fill="#050416"/>
<rect x="276.852" y="1254.0" width="8.434" height="28.0" fill="#090720"/>
<rect x="285.136" y="1254.0" width="8.434" height="28.0" fill="#0e0b2b"/>
<rect x="293.420" y="1254.0" width="8.434" height="28.0" fill="#150e38"/>
<rect x="301.704" y="1254.0" width="8.434" height="28.0" fill="#1c1044"/>
<rect x="309.988" y="1254.0" width="8.434" height="28.0" fill="#221150"/>
<rect x="318.272" y="1254.0" width="8.434" height="28.0" fill="#2a115c"/>
<rect x="326.556" y="1254.0" width="8.434" height="28.0" fill="#341069"/>
<rect x="334.840" y="1254.0" width="8.434" height="28.0" fill="#3d0f71"/>
<rect x="343.124" y="1254.0" width="8.434" height="28.0" fill="#451077"/>
<rect x="351.408" y="1254.0" width="8.434" height="28.0" fill="#4e117b"/>
<rect x="359.692" y="1254.0" width="8.434" height="28.0" fill="#56147d"/>
<rect x="367.976" y="1254.0" width="8.434" height="28.0" fill="#5f187f"/>
<rect x="376.260" y="1254.0" width="8.434" height="28.0" fill="#671b80"/>
<rect x="384.544" y="1254.0" width="8.434" height="28.0" fill="#6e1e81"/>
<rect x="392.828" y="1254.0" width="8.434" height="28.0" fill="#762181"/>
<rect x="401.112" y="1254.0" width="8.434" height="28.0" fill="#802582"/>
<rect x="409.396" y="1254.0" width="8.434" height="28.0" fill="#882781"/>
<rect x="417.680" y="1254.0" width="8.434" height="28.0" fill="#902a81"/>
<rect x="425.964" y="1254.0" width="8.434" height="28.0" fill="#982d80"/>
<rect x="434.248" y="1254.0" width="8.434" height="28.0" fill="#a02f7f"/>
<rect x="442.532" y="1254.0" width="8.434" height="28.0" fill="#aa337d"/>
<rect x="450.816" y="1254.0" width="8.434" height="28.0" fill="#b2357b"/>
<rect x="459.100" y="1254.0" width="8.434" height="28.0" fill="#ba3878"/>
<rect x="467.384" y="1254.0" width="8.434" height="28.0" fill="#c23b75"/>
<rect x="475.668" y="1254.0" width="8.434" height="28.0" fill="#cc3f71"/>
<rect x="483.952" y="1254.0" width="8.434" height="28.0" fill="#d3436e"/>
<rect x="492.236" y="1254.0" width="8.434" height="28.0" fill="#db476a"/>
<rect x="500.520" y="1254.0" width="8.434" height="28.0" fill="#e24d66"/>
<rect x="508.804" y="1254.0" width="8.434" height="28.0" fill="#e85362"/>
<rect x="517.088" y="1254.0" width="8.434" height="28.0" fill="#ee5b5e"/>
<rect x="525.372" y="1254.0" width="8.434" height="28.0" fill="#f2645c"/>
<rect x="533.656" y="1254.0" width="8.434" height="28.0" fill="#f66c5c"/>
<rect x="541.940" y="1254.0" width="8.434" height="28.0" fill="#f8765c"/>
<rect x="550.224" y="1254.0" width="8.434" height="28.0" fill="#fa815f"/>
<rect x="558.508" y="1254.0" width="8.434" height="28.0" fill="#fc8a62"/>
<rect x="566.792" y="1254.0" width="8.434" height="28.0" fill="#fd9467"/>
<rect x="575.076" y="1254.0" width="8.434" height="28.0" fill="#fe9d6c"/>
<rect x="583.360" y="1254.0" width="8.434" height="28.0" fill="#fea772"/>
<rect x="591.644" y="1254.0" width="8.434" height="28.0" fill="#feb27a"/>
<rect x="599.928" y="1254.0" width="8.434" height="28.0" fill="#febb81"/>
<rect x="608.212" y="1254.0" width="8.434" height="28.0" fill="#fec488"/>
<rect x="616.496" y="1254.0" width="8.434" height="28.0" fill="#fecd90"/>
<rect x="624.780" y="1254.0" width="8.434" height="28.0" fill="#fed89a"/>
<rect x="633.064" y="1254.0" width="8.434" height="28.0" fill="#fde2a3"/>
<rect x="641.348" y="1254.0" width="8.434" height="28.0" fill="#fdebac"/>
<rect x="649.632" y="1254.0" width="8.434" height="28.0" fill="#fcf4b6"/>
<rect x="657.916" y="1254.0" width="8.284" height="28.0" fill="#fcfdbf"/>
<text x="246.950" y="1308.2" font-size="19.6">0</text>
<text x="351.726" y="1308.2" font-size="19.6">0.05</text>
<text x="484.377" y="1308.2" font-size="19.6">0. </text>
<path transform="translate(500.723 1308.200) scale(0.009570 -0.009570)" d="M763 0L583 0L583 1147Q470 1040 223 930L223 1102Q420 1190 560 1330Q620 1400 646 1466L763 1466Z" fill="#000"/>
<text x="601.326" y="1308.2" font-size="19.6">0. 5</text>
<path transform="translate(617.672 1308.200) scale(0.009570 -0.009570)" d="M763 0L583 0L583 1147Q470 1040 223 930L223 1102Q420 1190 560 1330Q620 1400 646 1466L763 1466Z" fill="#000"/>
</svg></body></html>
